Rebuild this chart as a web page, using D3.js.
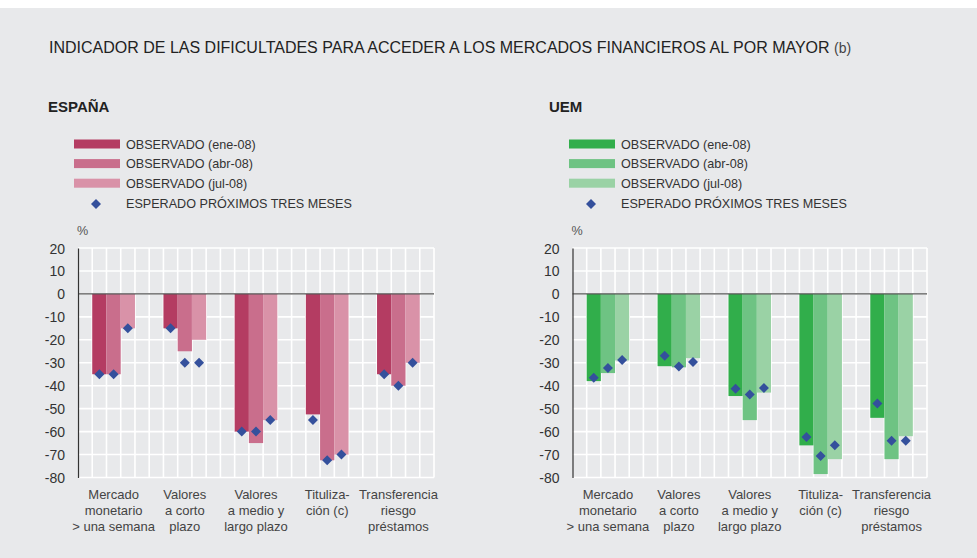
<!DOCTYPE html>
<html>
<head>
<meta charset="utf-8">
<script src="https://cdn.jsdelivr.net/npm/d3@7"></script>
<style>
    body { margin: 0; background: #fff; }
    svg text { font-family: "Liberation Sans", Arial, sans-serif; fill: #333; }
</style>
</head>
<body>
<svg id="chart" width="977" height="558"></svg>
<script>
// categorías y series
const categories = [
    ['Mercado', 'monetario', '> una semana'],
    ['Valores', 'a corto', 'plazo'],
    ['Valores', 'a medio y', 'largo plazo'],
    ['Tituliza-', 'ción (c)'],
    ['Transferencia', 'riesgo', 'préstamos']
];
const seriesNames = ['OBSERVADO (ene-08)', 'OBSERVADO (abr-08)', 'OBSERVADO (jul-08)'];
const expectedName = 'ESPERADO PRÓXIMOS TRES MESES';
const yTicks = [20, 10, 0, -10, -20, -30, -40, -50, -60, -70, -80];

// España
const esEne = [-35, -15, -60, -52.5, -35];
const esAbr = [-35, -25, -65, -72.5, -40];
const esJul = [-15, -20, -55, -70, -30];
const esExpEne = [-35, -15, -60, -55, -35];
const esExpAbr = [-35, -30, -60, -72.5, -40];
const esExpJul = [-15, -30, -55, -70, -30];

// UEM
const uemEne = [-38, -31.5, -44.5, -66, -54];
const uemAbr = [-34.5, -32, -55, -78.5, -72];
const uemJul = [-29, -28, -43, -72, -62];
const uemExpEne = [-36.5, -27, -41.3, -62.3, -47.8];
const uemExpAbr = [-32.3, -31.6, -43.8, -70.6, -64];
const uemExpJul = [-28.8, -29.7, -41, -66, -64];

const svg = d3.select('#chart');

// fondo
svg.append('rect').attr('x', 0).attr('y', 8).attr('width', 977).attr('height', 550).attr('fill', '#e8e9eb');

const title = svg.append('text').attr('x', 49).attr('y', 53)
    .style('font-size', '16px').style('fill', '#222');
title.append('tspan').text('INDICADOR DE LAS DIFICULTADES PARA ACCEDER A LOS MERCADOS FINANCIEROS AL POR MAYOR ');
title.append('tspan').style('font-size', '14px').style('fill', '#444').text('(b)');

function drawPanel(or) {
    const top = 248, bottom = 477.5;
    const g = svg.append('g');

    g.append('text').attr('x', or.titleX).attr('y', 112)
        .style('font-size', '15px').style('font-weight', 'bold').style('fill', '#222')
        .text(or.name);

    // leyenda
    const leg = g.append('g').attr('transform', `translate(${or.legX},0)`);
    or.colors.forEach((c, i) => {
        leg.append('rect').attr('x', 0).attr('y', 139.5 + i * 19.6)
            .attr('width', 46).attr('height', 9).attr('fill', c);
        leg.append('text').attr('x', 52).attr('y', 148.5 + i * 19.6)
            .style('font-size', '12.6px').text(seriesNames[i]);
    });
    leg.append('path').attr('d', d3.symbol(d3.symbolSquare, 50)())
        .attr('transform', `translate(22,${204}) rotate(45)`).attr('fill', '#34509c');
    leg.append('text').attr('x', 52).attr('y', 207.5)
        .style('font-size', '12.6px').text(expectedName);

    g.append('text').attr('x', or.left - 1).attr('y', 235)
        .style('font-size', '12.6px').style('fill', '#555').text('%');

    const y = d3.scaleLinear().domain([-80, 20]).range([bottom, top]);
    const x0 = d3.scaleBand().domain(d3.range(categories.length)).range([or.left, or.right]);
    const x1 = d3.scaleBand().domain(d3.range(3)).range([0, x0.bandwidth()]).paddingOuter(1);
    const slot = d3.scaleLinear().domain([0, 25]).range([or.left, or.right]);

    // rejilla
    g.append('g').selectAll('line.h').data(yTicks).join('line')
        .attr('x1', or.left).attr('x2', or.right)
        .attr('y1', d => y(d)).attr('y2', d => y(d))
        .attr('stroke', '#fff').attr('stroke-width', 1.6);
    g.append('g').selectAll('line.v').data(d3.range(1, 26)).join('line')
        .attr('x1', d => slot(d)).attr('x2', d => slot(d))
        .attr('y1', top).attr('y2', bottom)
        .attr('stroke', '#fff').attr('stroke-width', 1.6);

    // barras
    or.series.forEach((vals, s) => {
        g.append('g').selectAll('rect').data(vals).join('rect')
            .attr('x', (d, i) => x0(i) + x1(s))
            .attr('width', x1.bandwidth())
            .attr('y', y(0))
            .attr('height', d => y(d) - y(0))
            .attr('fill', or.colors[s]);
    });

    g.append('line').attr('x1', or.left).attr('x2', or.right)
        .attr('y1', y(0)).attr('y2', y(0))
        .attr('stroke', '#555').attr('stroke-width', 1.2);

    // esperado
    or.expected.forEach((vals, s) => {
        g.append('g').selectAll('path').data(vals).join('path')
            .attr('d', d3.symbol(d3.symbolSquare, 50)())
            .attr('transform', (d, i) => `translate(${x0(i) + x1(s) + x1.bandwidth() / 2},${y(d)}) rotate(45)`)
            .attr('fill', '#34509c');
    });

    // eje y
    const axis = g.append('g').attr('transform', `translate(${or.left},0)`)
        .call(d3.axisLeft(y).tickValues(yTicks).tickSize(0).tickPadding(13).tickFormat(d => String(d)));
    axis.select('.domain').attr('stroke', '#333').attr('stroke-width', 1.2);
    axis.selectAll('text').style('font-size', '14px').style('fill', '#333')
        .style('font-family', '"Liberation Sans", Arial, sans-serif').attr('dy', '0.36em');

    // categorías
    g.append('g').selectAll('text').data(categories).join('text')
        .attr('x', (d, i) => x0(i) + x0.bandwidth() / 2)
        .attr('y', 499)
        .attr('text-anchor', 'middle')
        .style('font-size', '13px').style('fill', '#444')
        .each(function(d) {
            d3.select(this).selectAll('tspan').data(d).join('tspan')
                .attr('x', d3.select(this).attr('x'))
                .attr('dy', (t, k) => k === 0 ? 0 : 15.8)
                .text(t => t);
        });
}

drawPanel({
    name: 'ESPAÑA', titleX: 48, legX: 74, left: 78, right: 434,
    colors: ['#b43c62', '#c96e8c', '#d992a8'],
    series: [esEne, esAbr, esJul],
    expected: [esExpEne, esExpAbr, esExpJul]
});
drawPanel({
    name: 'UEM', titleX: 549, legX: 569, left: 572.5, right: 927,
    colors: ['#31ae4b', '#6ec383', '#9ad2a5'],
    series: [uemEne, uemAbr, uemJul],
    expected: [uemExpEne, uemExpAbr, uemExpJul]
});
</script>
</body>
</html>
